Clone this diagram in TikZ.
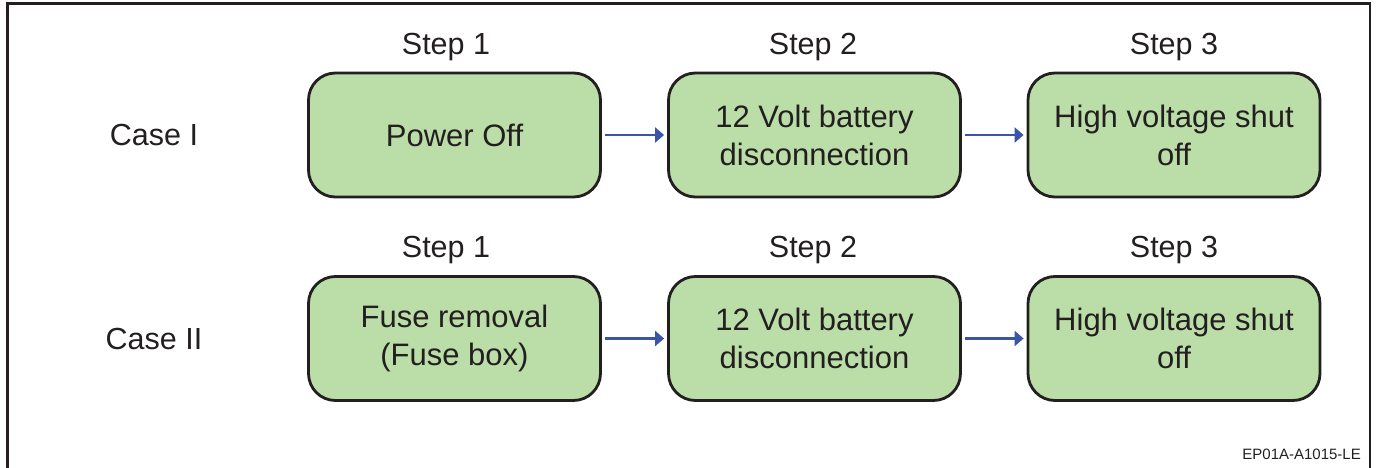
\documentclass[tikz,border=0pt]{standalone}
\usepackage{fontspec}
\setmainfont{Liberation Sans}
\usetikzlibrary{arrows.meta}
\definecolor{txt}{HTML}{231F20}
\definecolor{boxfill}{HTML}{BBDDA8}
\definecolor{arrowblue}{HTML}{3A55A5}
\begin{document}
\begin{tikzpicture}[x=1pt,y=-1pt,
  stepbox/.style={draw=txt, fill=boxfill, line width=2.8pt, rounded corners=27pt,
    minimum width=292pt, minimum height=124pt, align=center, text=txt,
    font=\fontsize{31}{38}\selectfont, inner sep=0pt},
  steplabel/.style={text=txt, font=\fontsize{30.5}{36}\selectfont, inner sep=0pt},
  caselabel/.style={text=txt, font=\fontsize{30.5}{36}\selectfont, inner sep=0pt},
  flow/.style={draw=arrowblue, line width=2.6pt, shorten <=3pt, shorten >=3pt,
    -{Triangle[length=9pt,width=15pt]}},
  frameline/.style={draw=txt, line width=2.6pt}]
\useasboundingbox (0,0) rectangle (1376,468);
\begin{scope}
\clip (0,0) rectangle (1376,468);
\coordinate (fbl) at (7.5,475);
\coordinate (ftl) at (7.5,3.5);
\coordinate (ftr) at (1370,3.5);
\coordinate (fbr) at (1370,475);
\draw[frameline] (fbl) -- (ftl) -- (ftr) -- (fbr);
\end{scope}

% Row 1
\node[caselabel] (c1) at (154,135.5) {Case I};
\node[steplabel] (s11) at (446,47) {Step 1};
\node[steplabel] (s12) at (813,47) {Step 2};
\node[steplabel] (s13) at (1174,47) {Step 3};
\node[stepbox] (b11) at (454.5,135) {Power Off};
\node[stepbox] (b12) at (814.5,135) {12 Volt battery\\disconnection};
\node[stepbox] (b13) at (1174,135) {High voltage shut\\off};
\draw[flow] (b11) -- (b12);
\draw[flow] (b12) -- (b13);

% Row 2
\node[caselabel] (c2) at (154,338.5) {Case II};
\node[steplabel] (s21) at (446,250) {Step 1};
\node[steplabel] (s22) at (813,250) {Step 2};
\node[steplabel] (s23) at (1174,250) {Step 3};
\node[stepbox] (b21) at (454.5,338.5) {Fuse removal\\(Fuse box)};
\node[stepbox] (b22) at (814.5,338.5) {12 Volt battery\\disconnection};
\node[stepbox] (b23) at (1174,338.5) {High voltage shut\\off};
\draw[flow] (b21) -- (b22);
\draw[flow] (b22) -- (b23);

\node[text=txt, font=\fontsize{15}{18}\selectfont, inner sep=0pt, anchor=base east] (code) at (1361,459) {EP01A-A1015-LE};
\end{tikzpicture}
\end{document}
